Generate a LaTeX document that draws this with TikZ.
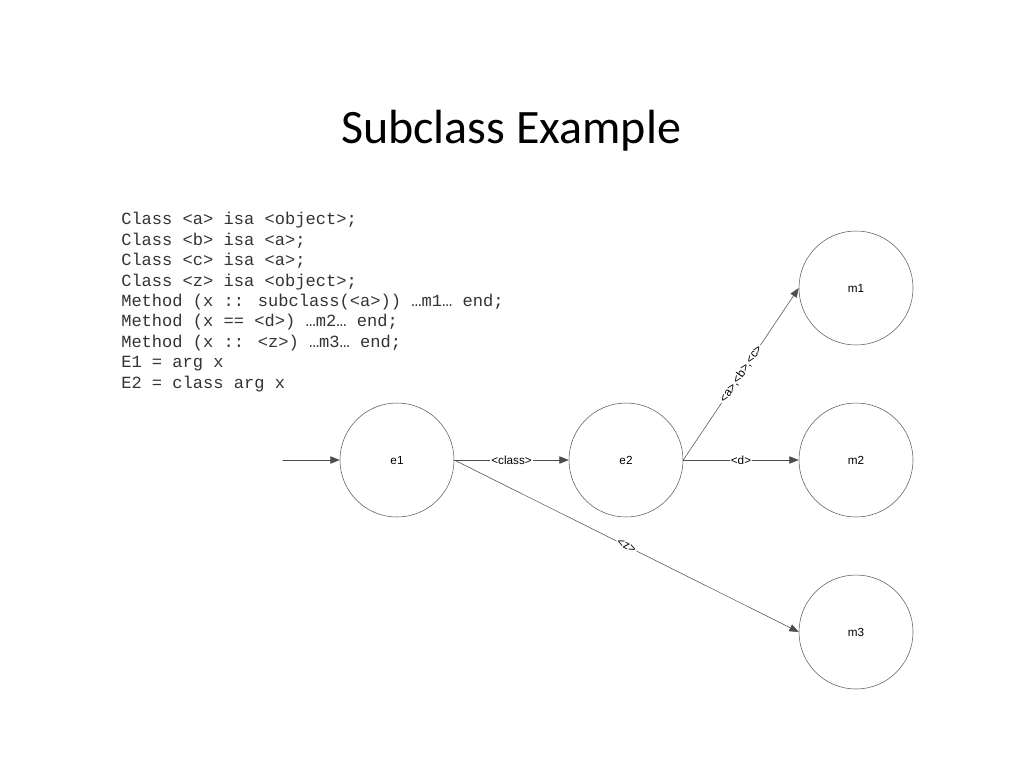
\documentclass[tikz,border=0pt]{standalone}
\usepackage{fontspec}
\setmainfont{Liberation Sans}
\newfontfamily\titlefont{Carlito}
\newfontfamily\codefont{Liberation Mono}
\usetikzlibrary{arrows.meta}
\begin{document}
\begin{tikzpicture}[x=0.75pt,y=-0.75pt,cap=round,>={Triangle[length=7pt,width=5.5pt]},
	stnode/.style={circle,draw=black!65,line width=0.4pt,minimum size=85.5pt,inner sep=0pt,text height=6.4pt,text depth=0pt,font=\fontsize{8.8}{10}\selectfont},
	conn/.style={->,draw=black!70,line width=0.4pt},
	lbl/.style={midway,fill=white,inner sep=1pt,font=\fontsize{8.8}{10}\selectfont}]
		\useasboundingbox (0,0) rectangle (1024,768);
		\node[font=\titlefont\fontsize{36}{40}\selectfont,anchor=base] (title) at (511,143) {Subclass Example};
		\node[font=\codefont\fontsize{12.8}{15.3}\selectfont,text=black!80,anchor=base west,align=left,inner sep=0pt] (code) at (121,388)
			{Class <a> isa <object>;\\ Class <b> isa <a>;\\ Class <c> isa <a>;\\ Class <z> isa <object>;\\
			 Method (x :: subclass(<a>)) …m1… end;\\ Method (x == <d>) …m2… end;\\ Method (x :: <z>) …m3… end;\\
			 E1 = arg x\\ E2 = class arg x};
		% states
		\node[stnode] (e1) at (397,460) {e1};
		\node[stnode] (e2) at (626,460) {e2};
		\foreach \n/\y in {m1/288, m2/460, m3/632}
			\node[stnode] (\n) at (856,\y) {\n};
		\coordinate (in) at (283,460);
		% transitions
		\draw[conn] (in) -- (e1.west);
		\draw[conn] (e1.east) -- node[lbl] {<class>} (e2.west);
		\draw[conn] (e2.east) -- node[lbl,sloped] {<a>,<b>,<c>} (m1.west);
		\draw[conn] (e2.east) -- node[lbl] {<d>} (m2.west);
		\draw[conn] (e1.east) -- node[lbl,sloped] {<z>} (m3.west);
\end{tikzpicture}
\end{document}
